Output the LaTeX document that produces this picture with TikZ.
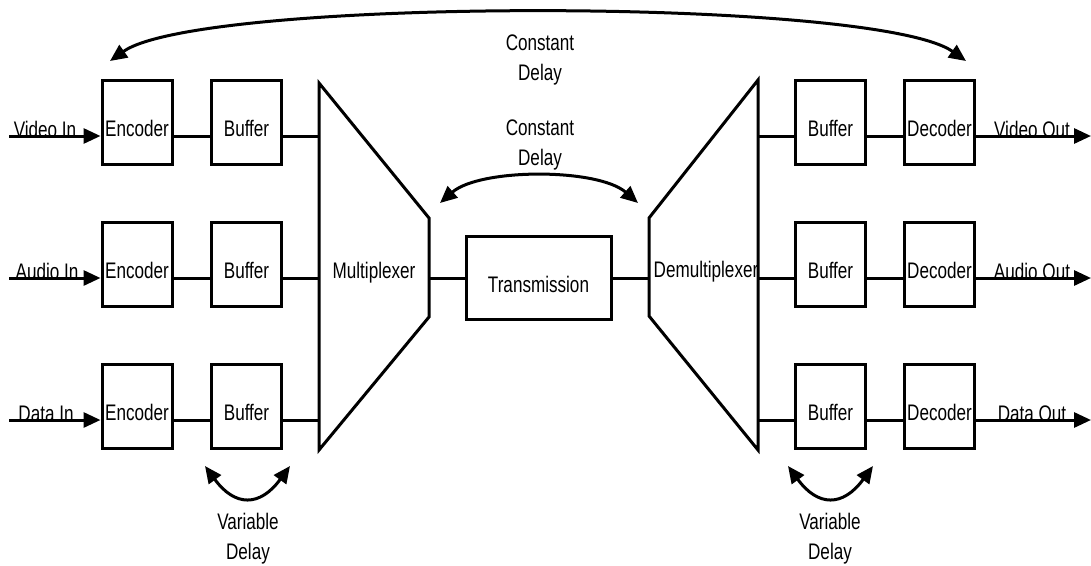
\documentclass[tikz,border=0pt]{standalone}
\usepackage{fontspec}
\setmainfont{Liberation Sans}[FakeStretch=0.76]
\usetikzlibrary{arrows.meta}
\begin{document}
\begin{tikzpicture}[x=1pt,y=-1pt,
  every node/.style={font=\fontsize{22.5}{29.5}\selectfont, inner sep=0pt},
  ln/.style={line width=3pt},
  blk/.style={draw, ln, minimum width=70pt, text height=56pt, text depth=28pt, anchor=base},
  tx/.style={anchor=base},
  tip/.style={-{Triangle[length=17pt,width=15pt]}},
  dtip/.style={{Triangle[length=17pt,width=15pt]}-{Triangle[length=17pt,width=15pt]}},
  mux/.style={ln, line join=miter}]
\useasboundingbox (0,0) rectangle (1091,565);

% encoders, buffers (left)
\node[blk] (enc1) at (137,136) {Encoder};
\node[blk] (enc2) at (137,278) {Encoder};
\node[blk] (enc3) at (137,420) {Encoder};
\node[blk] (buf1) at (246.5,136) {Buffer};
\node[blk] (buf2) at (246.5,278) {Buffer};
\node[blk] (buf3) at (246.5,420) {Buffer};

% buffers, decoders (right)
\node[blk] (rbuf1) at (830.5,136) {Buffer};
\node[blk] (rbuf2) at (830.5,278) {Buffer};
\node[blk] (rbuf3) at (830.5,420) {Buffer};
\node[blk] (dec1) at (939.5,136) {Decoder};
\node[blk] (dec2) at (939.5,278) {Decoder};
\node[blk] (dec3) at (939.5,420) {Decoder};

% transmission
\node[draw, ln, minimum width=145pt, text height=55.5pt, text depth=27.5pt, anchor=base] (trans) at (538.5,292) {Transmission};

% multiplexer / demultiplexer shapes
\draw[mux] (319,83) -- (429,218) -- (429,317) -- (319,450) -- cycle;
\draw[mux] (758,80) -- (649,218) -- (649,316) -- (758,450) -- cycle;
\node[tx] (muxl) at (374,278) {Multiplexer};
\node[tx] (demuxl) at (706,277) {Demultiplexer};

\coordinate (mi1) at (319,136);
\coordinate (mi2) at (319,278);
\coordinate (mi3) at (319,420);
\coordinate (mo) at (429,278);
\coordinate (di) at (649,278);
\coordinate (do1) at (758,136);
\coordinate (do2) at (758,278);
\coordinate (do3) at (758,420);

% inputs
\coordinate (vin) at (9,136);
\coordinate (ain) at (9,278);
\coordinate (din) at (9,420);
\draw[ln, tip] (vin) -- (enc1.base west);
\draw[ln, tip] (ain) -- (enc2.base west);
\draw[ln, tip] (din) -- (enc3.base west);
\node[tx] (vinl) at (45,137) {Video In};
\node[tx] (ainl) at (47,279) {Audio In};
\node[tx] (dinl) at (46,421) {Data In};

% left chain
\draw[ln] (enc1.base east) -- (buf1.base west);
\draw[ln] (enc2.base east) -- (buf2.base west);
\draw[ln] (enc3.base east) -- (buf3.base west);
\draw[ln] (buf1.base east) -- (mi1);
\draw[ln] (buf2.base east) -- (mi2);
\draw[ln] (buf3.base east) -- (mi3);

% middle
\draw[ln] (mo) -- (trans.west);
\draw[ln] (trans.east) -- (di);

% right chain
\draw[ln] (do1) -- (rbuf1.base west);
\draw[ln] (do2) -- (rbuf2.base west);
\draw[ln] (do3) -- (rbuf3.base west);
\draw[ln] (rbuf1.base east) -- (dec1.base west);
\draw[ln] (rbuf2.base east) -- (dec2.base west);
\draw[ln] (rbuf3.base east) -- (dec3.base west);

% outputs
\coordinate (vout) at (1091,136);
\coordinate (aout) at (1091,278);
\coordinate (dout) at (1091,420);
\draw[ln, tip] (dec1.base east) -- (vout);
\draw[ln, tip] (dec2.base east) -- (aout);
\draw[ln, tip] (dec3.base east) -- (dout);
\node[tx] (voutl) at (1032,137) {Video Out};
\node[tx] (aoutl) at (1032,279) {Audio Out};
\node[tx] (doutl) at (1032,421) {Data Out};

% delay arrows
\coordinate (ct1) at (110,61);
\coordinate (ct2) at (966,61);
\draw[ln, dtip] (ct1) .. controls (200,-3) and (876,-3) .. (ct2);
\node[tx, align=center] (cdtop) at (540,80) {Constant\\Delay};

\coordinate (cm1) at (440,203);
\coordinate (cm2) at (638,203);
\draw[ln, dtip] (cm1) .. controls (480,168) and (598,168) .. (cm2);
\node[tx, align=center] (cdmid) at (540,165) {Constant\\Delay};

\coordinate (vl1) at (205,466);
\coordinate (vl2) at (290,466);
\draw[ln, dtip] (vl1) .. controls (235,507) and (260,507) .. (vl2);
\node[tx, align=center] (vdl) at (248,559) {Variable\\Delay};

\coordinate (vr1) at (788,466);
\coordinate (vr2) at (873,466);
\draw[ln, dtip] (vr1) .. controls (818,507) and (843,507) .. (vr2);
\node[tx, align=center] (vdr) at (830,559) {Variable\\Delay};
\end{tikzpicture}
\end{document}
